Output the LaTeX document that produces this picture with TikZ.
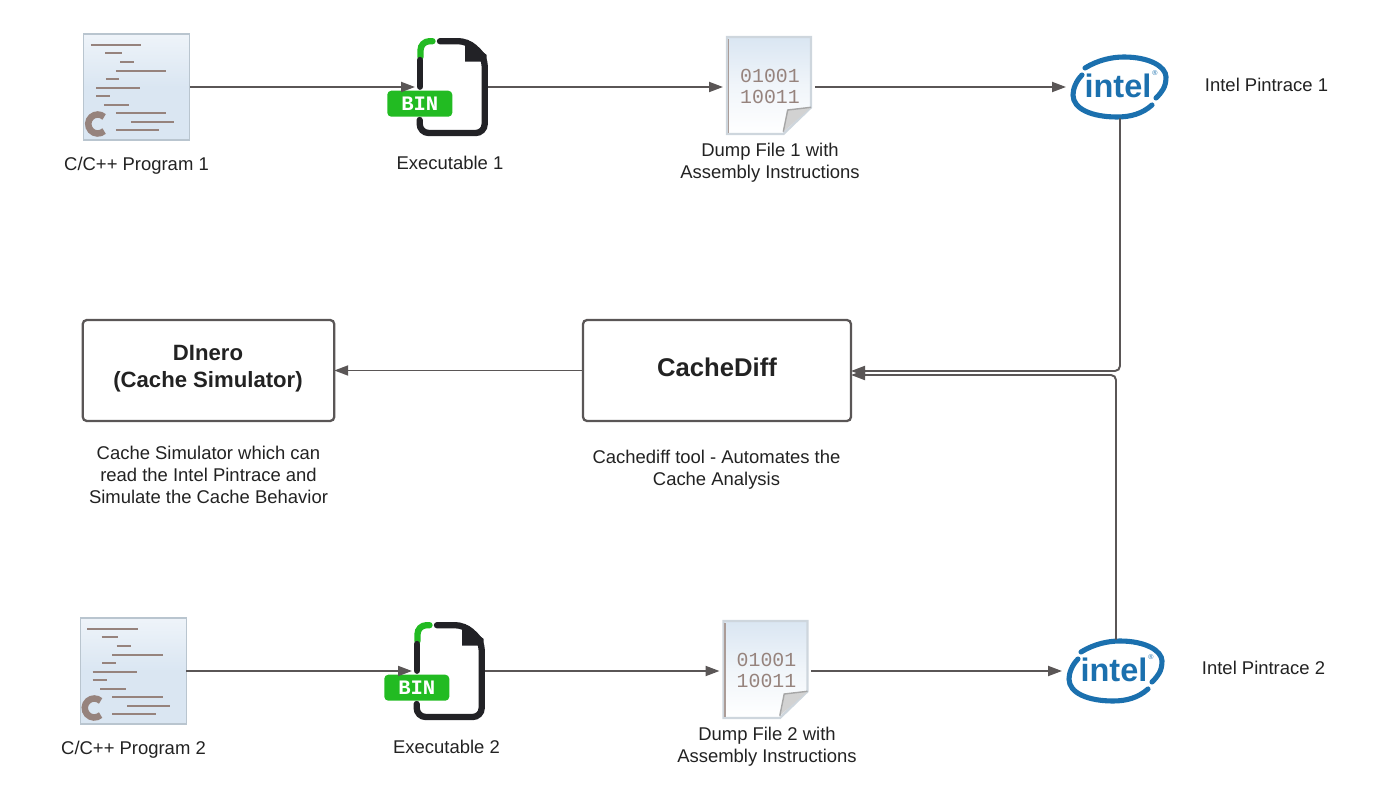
\documentclass[tikz,border=0pt]{standalone}
\usepackage{fontspec}
\setmainfont{Liberation Sans}
\newfontfamily\monofam{Liberation Mono}
\usepackage{xcolor}
\usetikzlibrary{arrows.meta}
\definecolor{inkc}{HTML}{222222}
\definecolor{linec}{HTML}{5A5656}
\definecolor{barc}{HTML}{96837D}
\definecolor{binc}{HTML}{22BB22}
\definecolor{darkc}{HTML}{222226}
\definecolor{intelc}{HTML}{1B70AE}
\definecolor{paleb}{HTML}{DAE6F2}
\definecolor{edgec}{HTML}{B9C5CF}
\tikzset{
  flow/.style={draw=linec,line width=1.1pt,-{Triangle[length=0.28cm,width=0.2cm]}},
  slot/.style={inner sep=0,outer sep=0},
  progslot/.style={slot,minimum width=2.13cm,minimum height=2.13cm},
  exeslot/.style={slot,minimum width=1.46cm,minimum height=1.92cm},
  dumpslot/.style={slot,minimum width=1.84cm,minimum height=1.94cm},
  intelslot/.style={slot,minimum width=2.16cm,minimum height=1.26cm},
  toolbox/.style={draw=linec,line width=1.3pt,rounded corners=0.08cm,inner sep=0,outer sep=0,
    minimum width=5.03cm,minimum height=2.02cm},
  label/.style={text=inkc,align=center,inner sep=0,font=\fontsize{10.5}{12.6}\selectfont},
  proglines/.pic={
    \fill[top color=white!55!paleb,bottom color=paleb,middle color=paleb] (-53,-53) rectangle (53,53);
    \draw[edgec,line width=0.8pt] (-53,-53) rectangle (53,53);
    \foreach \xa/\xb/\yy in {-46/4.5/-41.7,-31.7/-15/-33.7,-16.7/-2.7/-24.7,-21/29.3/-16.3,-31/-17.7/-7.7,
      -40.7/3.5/0.7,-40.7/-26.7/9,-33/-7.7/17.7,-21/29.3/26.3,-6/37/34.7,-21/22.5/43}
      \draw[barc,line width=1.3pt] (\xa,\yy) -- (\xb,\yy);
    \draw[barc,line width=3.7pt] (-39,37) ++(48:9.5) arc[start angle=48,end angle=312,radius=9.5];
  },
  binfile/.pic={
    \draw[binc,line width=3.6pt,line cap=round,rounded corners=0.18cm] (-31,-30) |- (-19,-45.8);
    \draw[darkc,line width=3.6pt,line cap=round,line join=round] (-31.5,-27) -- (-31.5,-0.3);
    \fill[darkc] (13.5,-47) -- (16.5,-47) -- (35.2,-32) -- (35.2,-25.3) -- (13.5,-25.3) -- cycle;
    \draw[darkc,line width=3.6pt,line cap=round,rounded corners=0.18cm] (-11.5,-45.8) -- (16,-45.8) -- (33.2,-30) -- (33.2,46) -- (-31.8,46) -- (-31.8,33);
    \fill[binc,rounded corners=0.08cm] (-64.2,3.7) rectangle (0.8,29.7);
    \node[text=white,inner sep=0,font=\monofam\bfseries\fontsize{11.7}{12}\selectfont] (tag) at (-31.7,16.7) {BIN};
  },
  dumppage/.pic={
    \draw[edgec!70!white,line width=1.4pt,top color=paleb,bottom color=white,middle color=white!60!paleb]
      (-42,-50) -- (42,-50) -- (42,20.3) -- (14.3,47) -- (-42,47) -- cycle;
    \draw[barc!80!white,line width=0.9pt] (-40.7,-48) -- (-40.7,46);
    \fill[gray!35] (18.7,23) -- (42,20.3) -- (14.3,44.7) -- cycle;
    \draw[gray!70,line width=0.8pt] (14.3,44.7) -- (18.7,23) -- (42,20.3);
    \node[text=barc,inner sep=0,font=\monofam\fontsize{11.3}{12}\selectfont] (row a) at (1,-11.3) {01001};
    \node[text=barc,inner sep=0,font=\monofam\fontsize{11.3}{12}\selectfont] (row b) at (1,9.7) {10011};
  },
  intellogo/.pic={
    \draw[intelc,line width=2.9pt,line cap=round] (-38,-12) .. controls (-44,-6) and (-47,2) .. (-47,8)
      .. controls (-47,22) and (-28,30) .. (-3,30) .. controls (10,30) and (22,27) .. (32,18);
    \draw[intelc,line width=2.9pt,line cap=round] (-35,-19) .. controls (-22,-27) and (-8,-30) .. (4,-30)
      .. controls (30,-30) and (46,-20) .. (46,-10) .. controls (46,0) and (42,5) .. (36,11);
    \node[text=intelc,inner sep=0,font=\bfseries\fontsize{18.5}{20}\selectfont] (word) at (-2,-1.5) {intel};
    \node[text=intelc,inner sep=0,font=\fontsize{4}{5}\selectfont] (reg) at (35,-14) {®};
  }
}
\begin{document}
\begin{tikzpicture}[x=0.02cm,y=-0.02cm]
\useasboundingbox (0,0) rectangle (1400,807);
% top row
\node[progslot] (prog1) at (136.75,87) {};
\node[exeslot] (exe1) at (451.5,87) {};
\node[dumpslot] (dump1) at (769,87) {};
\node[intelslot] (intel1) at (1120,87) {};
\pic (prog1art) at (prog1) {proglines};
\pic (exe1art) at (exe1) {binfile};
\pic (dump1art) at (dump1) {dumppage};
\pic (intel1art) at (intel1) {intellogo};
\node[label] (prog1txt) at (136.5,165.5) {C/C++ Program 1};
\node[label] (exe1txt) at (450,163) {Executable 1};
\node[label] (dump1txt) at (770,163) {Dump File 1 with\\Assembly Instructions};
\node[label] (intel1txt) at (1266.5,85) {Intel Pintrace 1};
% bottom row
\node[progslot] (prog2) at (133.25,671) {};
\node[exeslot] (exe2) at (448.5,671) {};
\node[dumpslot] (dump2) at (765.5,671) {};
\node[intelslot] (intel2) at (1116,671) {};
\pic (prog2art) at (prog2) {proglines};
\pic (exe2art) at (exe2) {binfile};
\pic (dump2art) at (dump2) {dumppage};
\pic (intel2art) at (intel2) {intellogo};
\node[label] (prog2txt) at (133.5,749.5) {C/C++ Program 2};
\node[label] (exe2txt) at (446.5,747) {Executable 2};
\node[label] (dump2txt) at (767,746.5) {Dump File 2 with\\Assembly Instructions};
\node[label] (intel2txt) at (1263.5,668) {Intel Pintrace 2};
% middle boxes
\node[toolbox] (dinero) at (208.5,370.5) {};
\node[text=inkc,align=center,inner sep=0,font=\bfseries\fontsize{12.6}{15.4}\selectfont] (dinerotxt) at (208,369) {DInero\\(Cache Simulator)};
\node[toolbox,minimum width=5.36cm] (cache) at (717,370.5) {};
\node[text=inkc,inner sep=0,font=\bfseries\fontsize{14.6}{16}\selectfont] (cachetxt) at (717,367) {CacheDiff};
\node[label] (dinerocap) at (208.5,475) {Cache Simulator which can\\read the Intel Pintrace and\\Simulate the Cache Behavior};
\node[label] (cachecap) at (716.5,470) {Cachediff tool - Automates the\\Cache Analysis};
\coordinate (in1) at (851,371);
\coordinate (in2) at (851,375);
% connectors
\draw[flow] (prog1) -- (exe1);
\draw[flow] (exe1) -- (dump1);
\draw[flow] (dump1) -- (intel1);
\draw[flow] (prog2) -- (exe2);
\draw[flow] (exe2) -- (dump2);
\draw[flow] (dump2) -- (intel2);
\draw[flow,rounded corners=0.1cm] (intel1.south) |- (in1);
\draw[flow,rounded corners=0.1cm] (intel2.north) |- (in2);
\draw[flow] (cache) -- (dinero);
\end{tikzpicture}
\end{document}
